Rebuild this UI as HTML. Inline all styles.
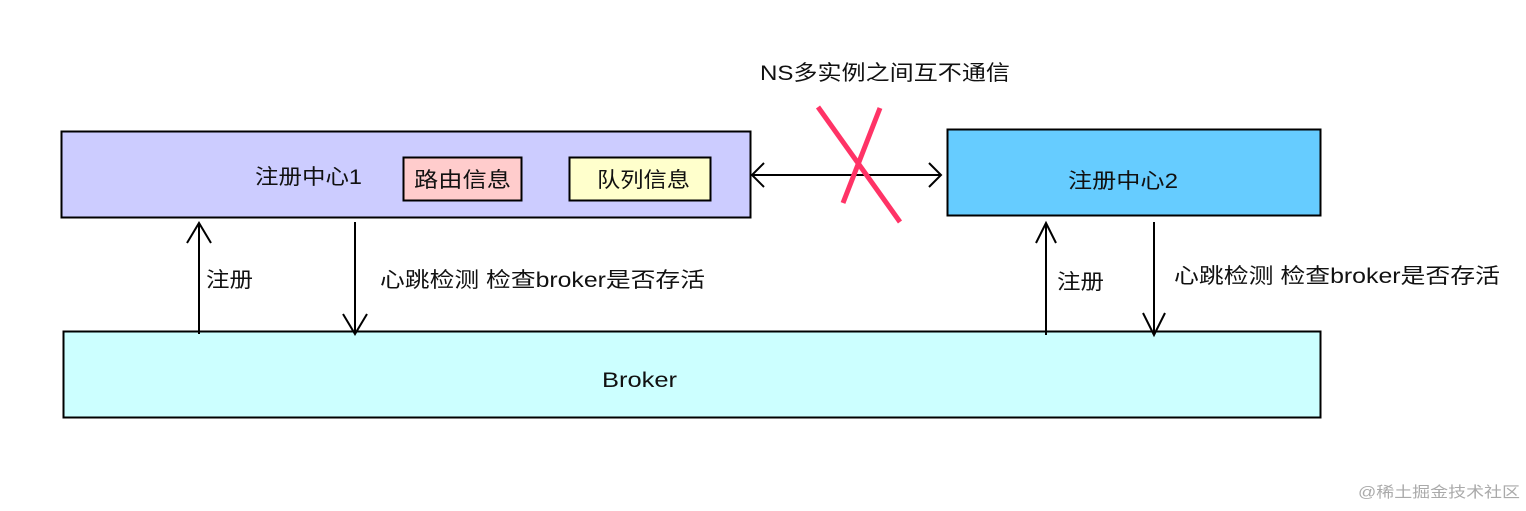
<!DOCTYPE html><html><head><meta charset="utf-8"><style>
body{margin:0;width:1526px;height:506px;background:#fff;overflow:hidden}
text{font-family:"Liberation Sans","Noto Sans CJK SC",sans-serif;font-size:21px;fill:#111}
</style></head><body>
<svg width="1526" height="506" xmlns="http://www.w3.org/2000/svg">
<rect x="61.5" y="131.5" width="689" height="86" fill="#ccccff" stroke="#000" stroke-width="2"/>
<rect x="403.5" y="157.5" width="118" height="43" fill="#ffcccc" stroke="#000" stroke-width="2"/>
<rect x="569.5" y="157.5" width="141" height="43" fill="#ffffcc" stroke="#000" stroke-width="2"/>
<rect x="947.5" y="129.5" width="373" height="86" fill="#66ccff" stroke="#000" stroke-width="2"/>
<rect x="63.5" y="331.5" width="1257" height="86" fill="#ccffff" stroke="#000" stroke-width="2"/>
<g stroke="#000" stroke-width="2" fill="none">
<line x1="752" y1="175" x2="941" y2="175"/>
<polyline points="764,163 752,175 764,187"/><polyline points="929,163 941,175 929,187"/>
<line x1="199" y1="334" x2="199" y2="223"/><polyline points="187,243 199,223 211,243"/>
<line x1="355" y1="222" x2="355" y2="334"/><polyline points="343,314 355,334 367,314"/>
<line x1="1046" y1="335" x2="1046" y2="223"/><polyline points="1036,243 1046,223 1056,243"/>
<line x1="1154" y1="222" x2="1154" y2="335"/><polyline points="1143,313 1154,335 1165,313"/>
</g>
<g stroke="#ff3366" stroke-width="5"><line x1="818" y1="107" x2="900" y2="222"/><line x1="880" y1="108" x2="843" y2="203"/></g>
<text x="760" y="80" textLength="250" lengthAdjust="spacingAndGlyphs">NS多实例之间互不通信</text>
<text x="255" y="184" textLength="107" lengthAdjust="spacingAndGlyphs">注册中心1</text>
<text x="414" y="187" textLength="97" lengthAdjust="spacingAndGlyphs">路由信息</text>
<text x="597" y="187" textLength="93" lengthAdjust="spacingAndGlyphs">队列信息</text>
<text x="1068" y="188" textLength="110" lengthAdjust="spacingAndGlyphs">注册中心2</text>
<text x="206" y="287" textLength="47" lengthAdjust="spacingAndGlyphs">注册</text>
<text x="380" y="287" textLength="325" lengthAdjust="spacingAndGlyphs">心跳检测 检查broker是否存活</text>
<text x="1057" y="289" textLength="47" lengthAdjust="spacingAndGlyphs">注册</text>
<text x="1174" y="283" textLength="326" lengthAdjust="spacingAndGlyphs">心跳检测 检查broker是否存活</text>
<text x="602" y="387" textLength="75" lengthAdjust="spacingAndGlyphs">Broker</text>
<text x="1358" y="497" style="font-size:15px;fill:#aaa" textLength="162" lengthAdjust="spacingAndGlyphs">@稀土掘金技术社区</text>
</svg></body></html>
